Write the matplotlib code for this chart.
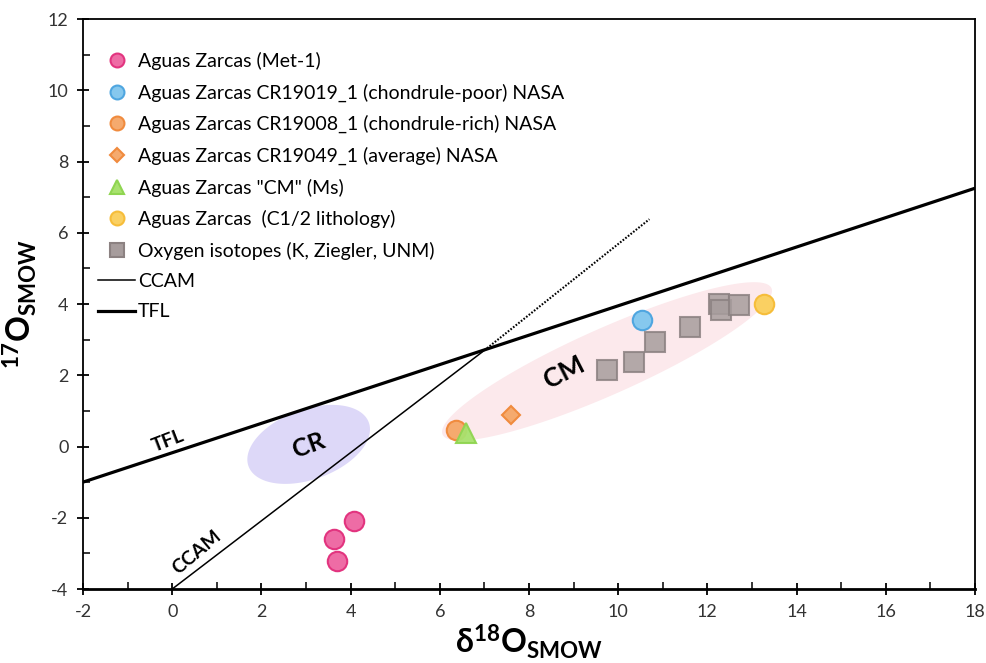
import numpy as np
import matplotlib
matplotlib.use('Agg')
import matplotlib.pyplot as plt
from matplotlib.lines import Line2D
from matplotlib.ticker import MultipleLocator

plt.rcParams.update({
    'font.family': ['Lato', 'DejaVu Sans'],
    'mathtext.fontset': 'custom',
    'mathtext.rm': 'Lato',
    'mathtext.bf': 'Lato:bold',
    'axes.unicode_minus': False,
})

# ── data ──────────────────────────────────────────────────────────────────────
MET1_X = [4.07, 3.62, 3.69]
MET1_Y = [-2.10, -2.60, -3.22]
CR19019_X = [10.54]
CR19019_Y = [3.54]
CR19008_X = [6.36]
CR19008_Y = [0.46]
CR19049_X = [7.60]
CR19049_Y = [0.88]
CM_MS_X = [6.58]
CM_MS_Y = [0.38]
C12_X = [13.26]
C12_Y = [4.00]
UNM_X = [9.75, 10.36, 10.83, 11.62, 12.25, 12.31, 12.70]
UNM_Y = [2.14, 2.37, 2.93, 3.35, 4.00, 3.83, 3.97]

TFL_X = [-2.0, 18.0]
TFL_Y = [-1.00, 7.25]
CCAM_X = [0.0, 7.0]
CCAM_Y = [-4.0, 2.70]
CCAM_EXT_X = [7.0, 10.7]
CCAM_EXT_Y = [2.70, 6.38]

XLIM = (-2, 18)
YLIM = (-4, 12)

# ── figure ────────────────────────────────────────────────────────────────────
fig = plt.figure(figsize=(9.87, 6.63), dpi=100)
ax = fig.add_axes([0.0841, 0.1116, 0.9037, 0.8597])
ax.set_xlim(*XLIM)
ax.set_ylim(*YLIM)

# pixels per data unit, used to draw the group ellipses in screen proportions
fw, fh = fig.get_size_inches() * fig.dpi
pos = ax.get_position()
SX = pos.width * fw / (XLIM[1] - XLIM[0])
SY = pos.height * fh / (YLIM[1] - YLIM[0])


def group_ellipse(cx, cy, a_px, b_px, ang, color):
    t = np.linspace(0, 2 * np.pi, 240)
    u, v = a_px * np.cos(t), b_px * np.sin(t)
    r = np.deg2rad(ang)
    ur = u * np.cos(r) - v * np.sin(r)
    vr = u * np.sin(r) + v * np.cos(r)
    ax.fill(cx + ur / SX, cy + vr / SY, color=color, lw=0, zorder=1)


group_ellipse(9.75, 2.39, 180, 33, 24, '#FCE9EC')
group_ellipse(3.06, 0.06, 64, 35, 20, '#DDD8F8')

# reference lines
ax.plot(TFL_X, TFL_Y, color='black', lw=2.3, zorder=3, solid_capstyle='butt')
ax.plot(CCAM_X, CCAM_Y, color='black', lw=1.1, zorder=3)
ax.plot(CCAM_EXT_X, CCAM_EXT_Y, color='black', lw=1.5, ls=(0, (0.8, 0.8)), zorder=3)

# data series
mk = dict(ls='none', zorder=5)
ax.plot(MET1_X, MET1_Y, 'o', ms=14, mfc='#EE6CA5', mec='#E2347F', mew=1.5, **mk)
ax.plot(CR19019_X, CR19019_Y, 'o', ms=14, mfc='#86C8EE', mec='#4FA6E0', mew=1.5, **mk)
ax.plot(CR19008_X, CR19008_Y, 'o', ms=14, mfc='#F5AA6E', mec='#F08B3E', mew=1.5, **mk)
ax.plot(CR19049_X, CR19049_Y, 'D', ms=9, mfc='#F5AA6E', mec='#F08B3E', mew=1.5, **mk)
ax.plot(CM_MS_X, CM_MS_Y, '^', ms=14, mfc='#A8E26E', mec='#8FD551', mew=1.5,
        alpha=0.95, **mk)
ax.plot(C12_X, C12_Y, 'o', ms=14, mfc='#FAD062', mec='#F6BD3A', mew=1.5, **mk)
ax.plot(UNM_X, UNM_Y, 's', ms=14, mfc='#A79D9D', mec='#8C8282', mew=1.5,
        alpha=0.85, **mk)

# in-plot labels
ax.text(-0.09, 0.16, 'TFL', rotation=21, fontsize=14, fontweight='bold',
        ha='center', va='center')
ax.text(0.56, -2.98, 'CCAM', rotation=40, fontsize=14, fontweight='bold',
        ha='center', va='center')
ax.text(3.06, 0.03, 'CR', rotation=20, fontsize=18, fontweight='bold',
        ha='center', va='center', zorder=4)
ax.text(8.79, 2.08, 'CM', rotation=27, fontsize=19, fontweight='bold',
        ha='center', va='center', zorder=4)

# legend
handles = [
    Line2D([], [], marker='o', ls='none', ms=10, mfc='#EE6CA5', mec='#E2347F', mew=1.5),
    Line2D([], [], marker='o', ls='none', ms=10, mfc='#86C8EE', mec='#4FA6E0', mew=1.5),
    Line2D([], [], marker='o', ls='none', ms=10, mfc='#F5AA6E', mec='#F08B3E', mew=1.5),
    Line2D([], [], marker='D', ls='none', ms=7, mfc='#F5AA6E', mec='#F08B3E', mew=1.5),
    Line2D([], [], marker='^', ls='none', ms=10, mfc='#A8E26E', mec='#8FD551', mew=1.5),
    Line2D([], [], marker='o', ls='none', ms=10, mfc='#FAD062', mec='#F6BD3A', mew=1.5),
    Line2D([], [], marker='s', ls='none', ms=10, mfc='#A79D9D', mec='#8C8282', mew=1.5),
    Line2D([], [], color='black', lw=1.1),
    Line2D([], [], color='black', lw=2.3),
]
labels = [
    'Aguas Zarcas (Met-1)',
    'Aguas Zarcas CR19019_1 (chondrule-poor) NASA',
    'Aguas Zarcas CR19008_1 (chondrule-rich) NASA',
    'Aguas Zarcas CR19049_1 (average) NASA',
    'Aguas Zarcas "CM" (Ms)',
    'Aguas Zarcas  (C1/2 lithology)',
    'Oxygen isotopes (K, Ziegler, UNM)',
    'CCAM',
    'TFL',
]
ax.legend(handles, labels, loc='upper left', bbox_to_anchor=(0.004, 0.963),
          frameon=False, fontsize=14, handlelength=1.9, handletextpad=0.15,
          labelspacing=0.69, borderaxespad=0.2)

# axes styling
for s in ax.spines.values():
    s.set_color('black')
    s.set_linewidth(1.3)
ax.spines['bottom'].set_linewidth(2.0)
ax.xaxis.set_major_locator(MultipleLocator(2))
ax.xaxis.set_minor_locator(MultipleLocator(1))
ax.yaxis.set_major_locator(MultipleLocator(2))
ax.yaxis.set_minor_locator(MultipleLocator(1))
ax.tick_params(which='major', direction='inout', length=9, width=1.3,
               labelsize=13, colors='black', labelcolor='#333333', pad=6)
ax.tick_params(which='minor', direction='in', length=5, width=1.1)
ax.tick_params(top=False, right=False, which='both')

ax.set_xlabel(r'$\mathbf{\delta^{18}O_{SMOW}}$', fontsize=23, labelpad=2)
ax.set_ylabel(r'$\mathbf{^{17}O_{SMOW}}$', fontsize=23, labelpad=6)

fig.savefig('out.png', dpi=100)
